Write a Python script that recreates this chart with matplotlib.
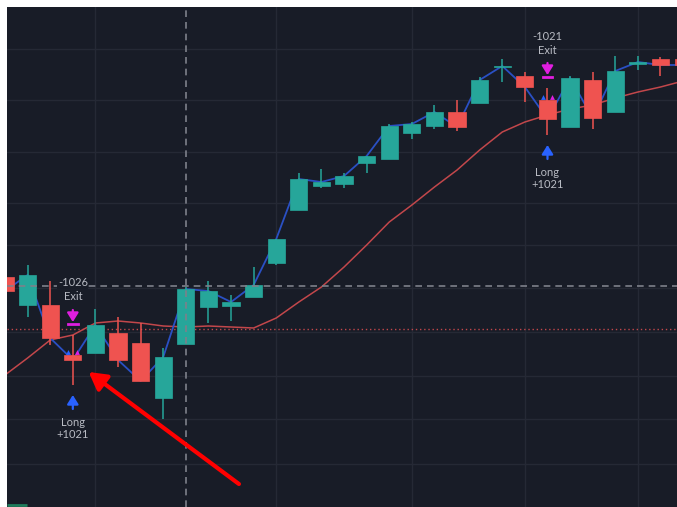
import numpy as np
import matplotlib.pyplot as plt

OUT_PNG = "out.png"

# TradingView-like dark palette
BG = "#181c27"
GRID = "#252935"
UP = "#26a69a"
DOWN = "#ef5350"
CLOSE_COLOR = "#2a50c4"
MA_COLOR = "#c2474b"
TEXT = "#b8bbc3"
ENTRY_COLOR = "#2962ff"
EXIT_COLOR = "#e01ee0"

# OHLC per bar (price units)
opens = [230, 202, 202, 152, 154, 174, 164, 109, 163, 200, 201, 210, 244, 297, 321, 323,
         344, 348, 374, 381, 395, 404, 440, 431, 407, 380, 427, 395, 443, 448, 448]
highs = [230, 242, 226, 172, 198, 190, 184, 159, 220, 226, 212, 240, 268, 334, 338, 334,
         351, 383, 385, 402, 407, 430, 448, 435, 419, 431, 435, 451, 451, 450, 449]
lows = [216, 190, 162, 122, 154, 140, 126, 88, 163, 184, 186, 210, 242, 297, 319, 319,
        334, 348, 368, 378, 376, 404, 425, 405, 372, 380, 378, 395, 437, 431, 441]
closes = [216, 232, 169, 147, 182, 147, 126, 150, 218, 216, 205, 222, 268, 328, 325, 331,
          351, 381, 383, 395, 380, 427, 441, 420, 388, 429, 389, 436, 445, 442, 442]
# slow moving average
ma = [132, 149, 167, 172, 184, 186, 184, 181, 180, 181, 180, 179, 189, 205, 220, 240,
      262, 285, 302, 320, 337, 357, 375, 385, 392, 398, 402, 409, 415, 420, 426]

grid_x = [4, 12, 18, 23, 28]
grid_y = [43, 88, 131, 175, 219, 262, 304, 355, 407, 458]

cross_x = 8
cross_y = 221
last_price = 178

# trades
entry_bars = [3, 24]
entry_qty = ["+1021", "+1021"]
exit_bars = [3, 24]
exit_qty = ["-1026", "-1021"]

# callout arrow (tail -> head)
callout_tail = (10.35, 23)
callout_head = (3.7, 135)


def main():
    fig = plt.figure(figsize=(6.77, 5.07), dpi=100, facecolor="white")
    ax = fig.add_axes([7 / 677, 0, 670 / 677, 500 / 507])
    ax.set_facecolor(BG)
    for s in ax.spines.values():
        s.set_visible(False)
    ax.set_xticks([])
    ax.set_yticks([])
    ax.set_xlim(0.088, 29.73)
    ax.set_ylim(0, 500)

    for gx in grid_x:
        ax.axvline(gx, color=GRID, lw=1, zorder=0)
    for gy in grid_y:
        ax.axhline(gy, color=GRID, lw=1, zorder=0)

    x = np.arange(len(opens))
    o = np.array(opens, float)
    h = np.array(highs, float)
    l = np.array(lows, float)
    c = np.array(closes, float)
    cols = [UP if cc >= oo else DOWN for oo, cc in zip(o, c)]

    ax.plot(x, ma, color=MA_COLOR, lw=1.1, zorder=2)
    ax.plot(x, c, color=CLOSE_COLOR, lw=1.3, zorder=2)
    ax.axhline(last_price, color=MA_COLOR, lw=1, ls=(0, (1, 2)), zorder=1)

    ax.vlines(x, l, h, colors=cols, lw=1.1, zorder=3)
    bot = np.minimum(o, c)
    ht = np.maximum(np.abs(c - o), 1.5)
    ax.bar(x, ht, bottom=bot, width=0.76, color=cols, edgecolor=cols, lw=0.5, zorder=4)

    # crosshair
    ax.axvline(cross_x, color="#7d808a", lw=1.2, ls=(0, (4, 3)), zorder=5)
    ax.axhline(cross_y, color="#7d808a", lw=1.2, ls=(0, (4, 3)), zorder=5)

    font = dict(family="Lato", size=8, color=TEXT, ha="center", va="center", zorder=7)
    head = "-|>,head_length=0.45,head_width=0.28"

    # exit marks above the bar
    for b, q in zip(exit_bars, exit_qty):
        top = highs[b]
        ax.annotate("", xy=(b, top + 13), xytext=(b, top + 25),
                    arrowprops=dict(arrowstyle=head, color=EXIT_COLOR, lw=1.6,
                                    mutation_scale=12, shrinkA=0, shrinkB=0), zorder=6)
        ax.plot([b - 0.22, b + 0.22], [top + 11, top + 11], color=EXIT_COLOR, lw=2, zorder=6)
        ax.text(b, top + 52, q, bbox=dict(facecolor=BG, edgecolor="none", pad=0.5), **font)
        ax.text(b, top + 38, "Exit", **font)
        btop = max(opens[b], closes[b])
        ax.plot(b + 0.2, btop + 3, marker="^", ms=3.5, color=EXIT_COLOR, mec="none", zorder=6)

    # entry marks below the bar
    for b, q in zip(entry_bars, entry_qty):
        low = lows[b]
        ax.annotate("", xy=(b, low - 10), xytext=(b, low - 24),
                    arrowprops=dict(arrowstyle=head, color=ENTRY_COLOR, lw=1.6,
                                    mutation_scale=12, shrinkA=0, shrinkB=0), zorder=6)
        ax.text(b, low - 37, "Long", **font)
        ax.text(b, low - 49, q, **font)
        btop = max(opens[b], closes[b])
        ax.plot(b - 0.2, btop + 3, marker="^", ms=3.5, color=ENTRY_COLOR, mec="none", zorder=6)

    # red callout arrow
    ax.annotate("", xy=callout_head, xytext=callout_tail,
                arrowprops=dict(arrowstyle="-|>,head_length=0.8,head_width=0.45",
                                color="#ff0000", lw=3, mutation_scale=13,
                                shrinkA=0, shrinkB=0), zorder=8)

    # small volume stub at bottom-left
    ax.plot([0, 0.03], [0.004, 0.004], transform=ax.transAxes, color="#1f7d5c",
            lw=2, solid_capstyle="butt", zorder=6)

    fig.savefig(OUT_PNG, dpi=100, facecolor="white")


if __name__ == "__main__":
    main()
